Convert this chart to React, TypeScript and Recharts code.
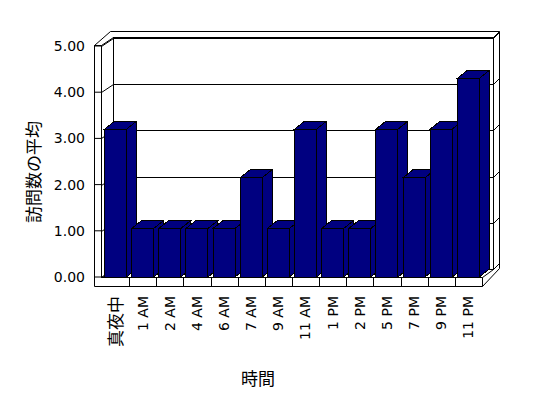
import React from "react";
import { BarChart, Bar, XAxis, YAxis, CartesianGrid, Label } from "recharts";

const hours = ["真夜中", "1 AM", "2 AM", "4 AM", "6 AM", "7 AM", "9 AM", "11 AM", "1 PM", "2 PM", "5 PM", "7 PM", "9 PM", "11 PM"];
const avgVisits = [3.2, 1.05, 1.05, 1.05, 1.05, 2.15, 1.05, 3.2, 1.05, 1.05, 3.2, 2.15, 3.2, 4.3];
const yTicks = [0, 1, 2, 3, 4, 5];

const data = hours.map((h, i) => ({ hour: h, value: avgVisits[i] }));

const FONT = "'DejaVu Sans', 'Noto Sans CJK JP', sans-serif";
const CJK_FONT = "'Noto Sans CJK JP', sans-serif";
const W = 548;
const H = 398;
// front plane of the 3D box
const L = 102;
const R = 482;
const T = 46;
const B = 277;
// depth offset of the walls
const DX = 11;
const DY = 8;
const BAR_DX = 10;
const BAR_DY = 8;

const isCJK = (s: string) => /[^\x00-\x7F]/.test(s);

function Bar3D(props: any) {
  const { x, y, width, height } = props;
  if (width == null || height == null) return null;
  const top = `${x},${y} ${x + BAR_DX},${y - BAR_DY} ${x + width + BAR_DX},${y - BAR_DY} ${x + width},${y}`;
  const side = `${x + width},${y} ${x + width + BAR_DX},${y - BAR_DY} ${x + width + BAR_DX},${y + height - BAR_DY} ${x + width},${y + height}`;
  return (
    <g stroke="#000" strokeWidth={1} fill="#000080" shapeRendering="crispEdges">
      <polygon points={side} />
      <polygon points={top} />
      <rect x={x} y={y} width={width} height={height} />
    </g>
  );
}

function GridLine(props: any) {
  const { y1, key } = props;
  const y = Math.round(y1) + 0.5;
  const bx = L + DX + 0.5;
  const rx = R + DX + 0.5;
  return (
    <g key={key} stroke="#000" strokeWidth={1} fill="none">
      <line x1={L - 0.5} y1={y} x2={bx} y2={y - DY} />
      <line x1={bx} y1={y - DY} x2={rx} y2={y - DY} />
      <line x1={rx} y1={y - DY} x2={rx + 6} y2={y - DY - 6} />
    </g>
  );
}

function XTick(props: any) {
  const { x, y, payload } = props;
  const label = String(payload.value);
  const cjk = isCJK(label);
  return (
    <g transform={`translate(${x},${y}) rotate(-90)`}>
      <text
        x={0}
        y={0}
        dy="0.35em"
        textAnchor="end"
        fontFamily={cjk ? CJK_FONT : FONT}
        fontSize={cjk ? 17 : 14}
        fill="#000000"
        style={{ fill: "#000000" }}
      >
        {label}
      </text>
    </g>
  );
}

function Walls() {
  const p = (v: number) => Math.round(v) + 0.5;
  const catW = (R - L) / hours.length;
  const bounds = hours.slice(1).map((_, i) => p(L + catW * (i + 1)));
  return (
    <svg width={W} height={H} style={{ position: "absolute", left: 0, top: 0 }}>
      <g stroke="#000" strokeWidth={1} fill="none">
        <polygon points={`${p(94)},${p(286)} ${p(94)},${p(45)} ${p(110)},${p(31)} ${p(499)},${p(31)} ${p(499)},${p(268)} ${p(482)},${p(286)}`} fill="#fff" />
        <rect x={p(L + DX)} y={p(T - DY - 1)} width={R - L} height={B - T + 1} />
        <line x1={p(R + DX)} y1={p(T - DY - 1)} x2={p(499)} y2={p(31)} />
        <line x1={p(94)} y1={p(45)} x2={p(L - 1)} y2={p(45)} />
        <line x1={p(L - 1)} y1={p(45)} x2={p(L - 1)} y2={p(B)} />
        <line x1={p(L - 1)} y1={p(45)} x2={p(L + DX)} y2={p(T - DY - 1)} />
        <line x1={p(L - 1)} y1={p(B)} x2={p(R)} y2={p(B)} />
        <line x1={p(L - 1)} y1={p(B)} x2={p(L + DX)} y2={p(B - DY)} />
        <line x1={p(R)} y1={p(B)} x2={p(R + DX)} y2={p(B - DY)} />
        <line x1={p(R)} y1={p(B)} x2={p(R)} y2={p(286)} />
        {bounds.map((bx, i) => (
          <line key={i} x1={bx} y1={p(B)} x2={bx} y2={p(286)} />
        ))}
      </g>
    </svg>
  );
}

export default function App() {
  return (
    <div style={{ position: "absolute", left: 0, top: 0, width: W, height: H, background: "#fff" }}>
      <Walls />
      <div style={{ position: "absolute", left: 0, top: 0 }}>
        <BarChart
          width={W}
          height={H}
          data={data}
          margin={{ top: T, right: W - R, bottom: 21, left: 0 }}
          barCategoryGap={2.5}
        >
          <CartesianGrid vertical={false} horizontal={GridLine} />
          <XAxis
            dataKey="hour"
            height={H - B - 21}
            axisLine={false}
            tickLine={false}
            tickMargin={13}
            interval={0}
            tick={XTick}
          >
            <Label
              content={() => (
                <text x={258} y={377} textAnchor="middle" dominantBaseline="central" fontFamily={CJK_FONT} fontSize={17} fill="#000">
                  時間
                </text>
              )}
            />
          </XAxis>
          <YAxis
            width={L}
            domain={[0, 5]}
            ticks={yTicks}
            tickFormatter={(v: number) => v.toFixed(2)}
            axisLine={false}
            tickSize={8}
            tickMargin={9}
            tickLine={{ stroke: "#000" }}
            tick={{ fontFamily: FONT, fontSize: 14, fill: "#000" }}
          >
            <Label
              content={() => (
                <text x={32} y={172} transform="rotate(-90 32 172)" textAnchor="middle" dominantBaseline="central" fontFamily={CJK_FONT} fontSize={17} fill="#000">
                  訪問数の平均
                </text>
              )}
            />
          </YAxis>
          <Bar dataKey="value" shape={Bar3D} isAnimationActive={false} />
        </BarChart>
      </div>
    </div>
  );
}
